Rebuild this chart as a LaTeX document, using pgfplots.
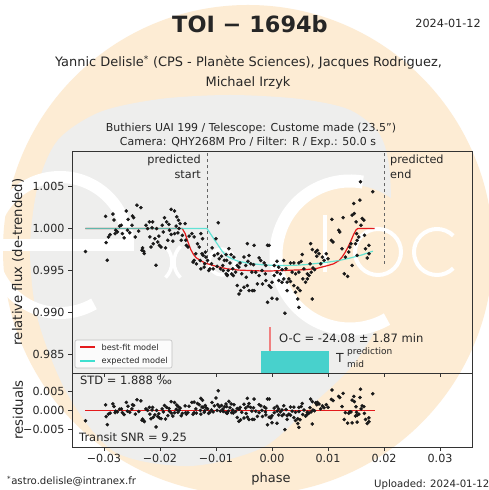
\documentclass[border=0pt]{standalone}
\usepackage{pgfplots}
\usepackage{pgfplotstable}
\pgfplotsset{compat=1.18}
\usepackage{fontspec}
\setmainfont{DejaVu Sans}
\definecolor{beige}{RGB}{253,236,212}
\definecolor{bggray}{RGB}{238,238,237}
\definecolor{fitred}{RGB}{228,26,28}
\definecolor{expcyan}{RGB}{64,224,208}
\definecolor{barcyan}{RGB}{72,209,204}
\definecolor{salmonc}{RGB}{240,128,128}
\definecolor{txt}{RGB}{38,38,38}

\pgfplotstableread{
x f r
-0.0333 0.99726 -0.00274
-0.0297 1.00147 0.00147
-0.0296 0.99833 -0.00167
-0.0294 0.99622 -0.00378
-0.0292 0.99900 -0.00100
-0.0289 0.99928 -0.00072
-0.0284 1.00174 0.00174
-0.0282 1.00103 0.00103
-0.0280 0.99940 -0.00060
-0.0279 0.99980 -0.00020
-0.0276 0.99960 -0.00040
-0.0272 1.00030 0.00030
-0.0269 1.00040 0.00040
-0.0267 0.99940 -0.00060
-0.0264 0.99890 -0.00110
-0.0260 1.00210 0.00210
-0.0258 0.99980 -0.00020
-0.0257 1.00110 0.00110
-0.0254 0.99950 -0.00050
-0.0250 1.00040 0.00040
-0.0249 1.00150 0.00150
-0.0247 1.00130 0.00130
-0.0244 0.99900 -0.00100
-0.0241 1.00280 0.00280
-0.0238 0.99970 -0.00030
-0.0234 1.00250 0.00250
-0.0232 0.99741 -0.00259
-0.0231 0.99769 -0.00231
-0.0229 0.99729 -0.00271
-0.0228 0.99702 -0.00298
-0.0225 1.00040 0.00040
-0.0222 1.00000 0.00000
-0.0219 1.00080 0.00080
-0.0218 0.99900 -0.00100
-0.0216 0.99780 -0.00220
-0.0214 1.00010 0.00010
-0.0213 1.00080 0.00080
-0.0212 0.99820 -0.00180
-0.0209 0.99880 -0.00120
-0.0207 0.99562 -0.00438
-0.0206 1.00000 0.00000
-0.0204 0.99840 -0.00160
-0.0202 0.99910 -0.00090
-0.0201 0.99800 -0.00200
-0.0198 0.99780 -0.00220
-0.0196 1.00040 0.00040
-0.0194 0.99960 -0.00040
-0.0192 1.00130 0.00130
-0.0190 0.99770 -0.00230
-0.0188 1.00080 0.00080
-0.0186 0.99860 -0.00140
-0.0184 1.00050 0.00050
-0.0183 0.99980 -0.00020
-0.0180 0.99930 -0.00070
-0.0180 1.00230 0.00230
-0.0177 0.99850 -0.00150
-0.0174 0.99940 -0.00060
-0.0174 1.00210 0.00210
-0.0171 1.00030 0.00030
-0.0170 1.00140 0.00140
-0.0168 0.99950 -0.00050
-0.0167 1.00100 0.00100
-0.0166 1.00000 0.00000
-0.0164 1.00060 0.00060
-0.0162 0.99860 -0.00140
-0.0160 0.99920 -0.00080
-0.0155 1.00060 0.00120
-0.0154 0.99860 -0.00060
-0.0153 0.99800 -0.00100
-0.0150 0.99780 -0.00060
-0.0148 0.99910 0.00110
-0.0143 0.99940 0.00210
-0.0141 0.99600 -0.00100
-0.0139 0.99900 0.00220
-0.0139 0.99620 -0.00060
-0.0136 0.99700 0.00040
-0.0135 0.99580 -0.00070
-0.0133 0.99820 0.00180
-0.0130 0.99780 0.00150
-0.0128 0.99620 0.00000
-0.0127 0.99940 0.00320
-0.0127 0.99520 -0.00100
-0.0125 0.99700 0.00090
-0.0124 0.99880 0.00270
-0.0123 0.99680 0.00080
-0.0121 0.99540 -0.00050
-0.0120 0.99580 -0.00010
-0.0119 0.99720 0.00130
-0.0118 0.99660 0.00070
-0.0115 0.99620 0.00040
-0.0113 0.99500 -0.00080
-0.0111 0.99520 -0.00050
-0.0108 0.99580 0.00010
-0.0107 0.99770 0.00210
-0.0105 0.99520 -0.00040
-0.0103 0.99680 0.00120
-0.0100 0.99880 0.00330
-0.0098 0.99550 0.00000
-0.0097 0.99700 0.00150
-0.0096 1.00070 0.00520
-0.0094 0.99640 0.00095
-0.0092 0.99520 -0.00020
-0.0090 0.99670 0.00130
-0.0088 0.99560 0.00030
-0.0087 0.99500 -0.00030
-0.0085 0.99620 0.00090
-0.0082 0.99690 0.00170
-0.0082 0.99460 -0.00060
-0.0081 0.99620 0.00100
-0.0080 0.99450 -0.00070
-0.0080 0.99440 -0.00080
-0.0078 0.99500 -0.00020
-0.0077 0.99760 0.00240
-0.0075 0.99590 0.00070
-0.0073 0.99690 0.00170
-0.0072 0.99460 -0.00060
-0.0070 0.99520 0.00010
-0.0069 0.99440 -0.00070
-0.0068 0.99660 0.00150
-0.0065 0.99480 -0.00030
-0.0062 0.99560 0.00050
-0.0062 0.99320 -0.00190
-0.0059 0.99540 0.00030
-0.0059 0.99220 -0.00290
-0.0057 0.99590 0.00080
-0.0056 0.99260 -0.00250
-0.0054 0.99460 -0.00050
-0.0050 0.99660 0.00160
-0.0050 0.99300 -0.00200
-0.0047 0.99560 0.00060
-0.0046 0.99420 -0.00080
-0.0044 0.99820 0.00320
-0.0044 0.99320 -0.00180
-0.0043 0.99610 0.00110
-0.0041 0.99680 0.00180
-0.0041 0.99260 -0.00240
-0.0038 0.99580 0.00080
-0.0036 0.99480 -0.00020
-0.0035 0.99260 -0.00240
-0.0033 0.99570 0.00070
-0.0032 0.99800 0.00300
-0.0032 0.99260 -0.00240
-0.0029 0.99480 -0.00020
-0.0026 0.99340 -0.00160
-0.0023 0.99650 0.00150
-0.0023 0.99440 -0.00060
-0.0020 0.99620 0.00120
-0.0018 0.99500 0.00000
-0.0017 0.99340 -0.00160
-0.0014 0.99590 0.00090
-0.0012 0.99460 -0.00040
-0.0011 0.99560 0.00060
-0.0011 0.99380 -0.00120
-0.0008 0.99800 0.00300
-0.0008 0.99120 -0.00380
-0.0005 0.99800 0.00300
-0.0005 0.99320 -0.00180
-0.0002 0.99300 -0.00200
0.0000 0.99360 -0.00140
0.0000 0.99170 -0.00330
0.0004 0.99560 0.00060
0.0004 0.99440 -0.00060
0.0009 0.99610 0.00110
0.0009 0.99480 -0.00020
0.0009 0.99160 -0.00340
0.0012 0.99540 0.00040
0.0012 0.99380 -0.00120
0.0015 0.99460 -0.00040
0.0018 0.99510 0.00010
0.0018 0.99360 -0.00140
0.0021 0.99620 0.00120
0.0021 0.99400 -0.00100
0.0023 0.98990 -0.00510
0.0025 0.99520 0.00020
0.0027 0.99360 -0.00140
0.0027 0.99260 -0.00240
0.0030 0.99400 -0.00100
0.0033 0.99590 0.00090
0.0033 0.99370 -0.00130
0.0036 0.99480 -0.00020
0.0039 0.99590 0.00085
0.0039 0.99320 -0.00190
0.0042 0.99460 -0.00050
0.0042 0.99240 -0.00270
0.0046 0.99290 -0.00220
0.0046 0.99160 -0.00350
0.0048 0.99590 0.00080
0.0048 0.99480 -0.00030
0.0048 0.99060 -0.00450
0.0050 0.99260 -0.00250
0.0052 0.99610 0.00100
0.0054 0.99690 0.00180
0.0055 0.99400 -0.00110
0.0057 0.99520 0.00010
0.0060 0.99360 -0.00150
0.0063 0.99400 -0.00110
0.0063 0.99460 -0.00050
0.0066 0.99440 -0.00070
0.0068 0.99580 0.00070
0.0069 0.99820 0.00300
0.0070 0.99480 -0.00040
0.0072 0.99750 0.00230
0.0072 0.99160 -0.00360
0.0073 0.99530 0.00010
0.0076 0.99510 -0.00010
0.0078 0.99720 0.00200
0.0080 0.99670 0.00150
0.0081 0.99740 0.00210
0.0084 0.99700 0.00170
0.0087 0.99580 0.00040
0.0090 0.99660 0.00120
0.0093 0.99620 0.00070
0.0097 0.99700 0.00150
0.0100 0.99640 0.00080
0.0106 0.99860 0.00290
0.0107 1.00110 0.00540
0.0109 0.99840 0.00260
0.0119 0.99980 0.00370
0.0121 0.99960 0.00340
0.0125 0.99760 0.00100
0.0127 1.00130 0.00450
0.0129 0.99460 -0.00240
0.0131 0.99660 -0.00060
0.0135 0.99430 -0.00340
0.0137 0.99720 -0.00075
0.0139 0.99780 -0.00040
0.0141 0.99820 -0.00040
0.0143 1.00160 0.00270
0.0143 0.99560 -0.00330
0.0146 1.00300 0.00370
0.0147 1.00180 0.00230
0.0149 0.99820 -0.00150
0.0150 1.00080 0.00095
0.0151 0.99940 -0.00050
0.0152 0.99860 -0.00130
0.0152 0.99680 -0.00310
0.0155 0.99900 -0.00100
0.0157 1.00340 0.00340
0.0158 1.00560 0.00560
0.0159 1.00040 0.00040
0.0161 1.00120 0.00120
0.0164 1.00100 0.00100
0.0165 0.99920 -0.00080
0.0167 0.99760 -0.00240
0.0170 0.99650 -0.00350
0.0173 0.99700 -0.00300
0.0173 0.99800 -0.00200
0.0180 1.00440 0.00440
}\obsdata

\pgfplotstableread{
x y
-0.0333 1.0000
-0.0160 1.0000
-0.0155 0.9994
-0.0150 0.9984
-0.0145 0.9975
-0.0140 0.9969
-0.0135 0.9965
-0.0130 0.9963
-0.0120 0.9959
-0.0110 0.9957
-0.0100 0.9955
-0.0080 0.9952
-0.0060 0.99505
-0.0040 0.9950
-0.0020 0.99495
0.0000 0.99495
0.0020 0.9950
0.0040 0.99505
0.0060 0.9951
0.0080 0.99525
0.0100 0.9956
0.0110 0.9958
0.0120 0.9962
0.0125 0.9966
0.0130 0.9971
0.0135 0.9977
0.0140 0.9984
0.0145 0.9992
0.0150 0.99985
0.0153 1.0000
0.0183 1.0000
}\fitmodel

\pgfplotstableread{
x y
-0.0333 1.0000
-0.0116 1.0000
-0.0110 0.9994
-0.0105 0.9989
-0.0100 0.9984
-0.0095 0.9979
-0.0090 0.9974
-0.0085 0.9970
-0.0080 0.9967
-0.0070 0.99635
-0.0060 0.9961
-0.0040 0.99585
-0.0020 0.9957
0.0000 0.99562
0.0020 0.9956
0.0040 0.99562
0.0060 0.9957
0.0080 0.99585
0.0100 0.9960
0.0120 0.9962
0.0140 0.9965
0.0160 0.99685
0.0180 0.9973
}\expmodel

\begin{document}
\begin{tikzpicture}
\useasboundingbox (0,0) rectangle (489bp,490bp);
\fill[white] (0,0) rectangle (489bp,490bp);
% background logo (pixel coordinates, y downwards)
\begin{scope}[x=1bp,y=-1bp,yshift=490bp]
  \fill[beige] (248,250) circle[radius=245bp];
  \fill[bggray] plot[smooth cycle] coordinates {(230,95) (300,99) (350,110) (380,135) (390,175) (390,250) (380,318) (352,366) (306,410) (262,448) (190,466) (115,452) (68,395) (38,320) (30,250) (38,185) (58,140) (100,112) (160,99)};
  \fill[beige] (350,255) circle[radius=70bp];
  \draw[white,line width=13bp] ([shift={(80:74bp)}]350,255) arc[start angle=80,end angle=300,radius=74bp];
  \draw[white,line width=12bp] ([shift={(0:68bp)}]60,245) arc[start angle=0,end angle=300,radius=68bp];
  \draw[white,line width=12bp] (-10,245) -- (134,245);
  \draw[white,line width=3.5bp] ([shift={(-45:22bp)}]150,262) arc[start angle=-45,end angle=45,radius=22bp];
  \draw[white,line width=3.5bp] ([shift={(135:22bp)}]196,262) arc[start angle=135,end angle=225,radius=22bp];
  \draw[white,line width=3.5bp] (222,262) circle[radius=13bp];
  \draw[white,line width=4bp] (325,215) -- (325,272);
  \draw[white,line width=4bp] (378,252) circle[radius=23bp];
  \draw[white,line width=4bp] ([shift={(45:23bp)}]437,252) arc[start angle=45,end angle=315,radius=23bp];
\end{scope}

\begin{axis}[
  at={(72bp,117bp)}, anchor=south west,
  width=400bp, height=222bp, scale only axis,
  xmin=-0.0357, xmax=0.0357, ymin=0.98277, ymax=1.00926,
  scaled ticks=false,
  axis line style={black!80, line width=0.9bp},
  xtick={-0.03,-0.02,-0.01,0,0.01,0.02,0.03}, xticklabels={},
  ytick={0.985,0.990,0.995,1.000,1.005},
  yticklabels={0.985,0.990,0.995,1.000,1.005},
  tick align=outside, xtick pos=bottom, ytick pos=left,
  major tick length=4bp, tick style={black!80, line width=0.8bp},
  ticklabel style={font=\fontsize{11.2}{13}\selectfont, text=txt},
  ylabel={relative flux (de-trended)},
  ylabel style={font=\fontsize{13.3}{16}\selectfont, text=txt, at={(axis description cs:-0.135,0.5)}, anchor=center},
]
\addplot[black!60, dashed, line width=0.8bp] coordinates {(-0.0116,0.9958) (-0.0116,1.00926)};
\addplot[black!60, dashed, line width=0.8bp] coordinates {(0.0200,0.9958) (0.0200,1.00926)};
\addplot[fill=barcyan, draw=none] coordinates {(-0.0020,0.98277) (-0.0020,0.98537) (0.0102,0.98537) (0.0102,0.98277)} -- cycle;
\addplot[salmonc, line width=2.5bp] coordinates {(-0.00036,0.98537) (-0.00036,0.98824)};
\addplot[only marks, mark=*, mark size=1.6bp, black!90] table[x=x,y=f] {\obsdata};
\addplot[fitred, line width=1.2bp] table[x=x,y=y] {\fitmodel};
\addplot[expcyan, line width=1.2bp, opacity=0.8] table[x=x,y=y] {\expmodel};
\end{axis}

\begin{axis}[
  at={(72bp,43bp)}, anchor=south west,
  width=400bp, height=74bp, scale only axis,
  xmin=-0.0357, xmax=0.0357, ymin=-0.0097, ymax=0.0099,
  scaled ticks=false,
  axis line style={black!80, line width=0.9bp},
  xtick={-0.03,-0.02,-0.01,0,0.01,0.02,0.03},
  xticklabels={−0.03,−0.02,−0.01,0.00,0.01,0.02,0.03},
  ytick={-0.005,0,0.005}, yticklabels={−0.005,0.000,0.005},
  tick align=outside, xtick pos=bottom, ytick pos=left,
  major tick length=4bp, tick style={black!80, line width=0.8bp},
  ticklabel style={font=\fontsize{11.2}{13}\selectfont, text=txt},
  ylabel={residuals},
  ylabel style={font=\fontsize{13.3}{16}\selectfont, text=txt, at={(axis description cs:-0.135,0.5)}, anchor=center},
]
\addplot[only marks, mark=*, mark size=1.6bp, black!90] table[x=x,y=r] {\obsdata};
\addplot[fitred, line width=1.1bp] coordinates {(-0.0333,0) (0.0183,0)};
\end{axis}

% texts and legend (pixel coordinates, y downwards)
\begin{scope}[x=1bp,y=-1bp,yshift=490bp, every node/.style={text=txt, inner sep=0pt}]
  \filldraw[fill=white, fill opacity=0.8, draw=black!25, rounded corners=2bp, line width=0.6bp] (75,340) rectangle (172,368);
  \draw[fitred, line width=1.2bp] (80,347) -- (95,347);
  \draw[expcyan, line width=1.2bp] (80,361) -- (95,361);
  \node[anchor=west, font=\fontsize{8.2}{9.5}\selectfont] at (101.5,347) {best-fit model};
  \node[anchor=west, font=\fontsize{8.2}{9.5}\selectfont] at (101.5,361) {expected model};
  \node[font=\fontsize{22.5}{27}\selectfont\bfseries] at (250,24) {TOI − 1694b};
  \node[anchor=east, font=\fontsize{11.3}{13}\selectfont] at (481,23) {2024-01-12};
  \node[anchor=base, font=\fontsize{13}{16}\selectfont] at (248.5,66.7) {Yannic Delisle\textsuperscript{*} (CPS - Planète Sciences), Jacques Rodriguez,};
  \node[anchor=base, font=\fontsize{13}{16}\selectfont] at (248,86.7) {Michael Irzyk};
  \node[anchor=base, font=\fontsize{11}{13}\selectfont] at (251,131.3) {Buthiers UAI 199 / Telescope: Custome made (23.5")};
  \node[anchor=base, font=\fontsize{11}{13}\selectfont] at (248,146) {Camera: QHY268M Pro / Filter: R / Exp.: 50.0 s};
  \node[anchor=north east, align=right, font=\fontsize{11.3}{15}\selectfont] at (201,154.5) {predicted\\start};
  \node[anchor=north west, align=left, font=\fontsize{11.3}{15}\selectfont] at (390,154.5) {predicted\\end};
  \node[anchor=west, font=\fontsize{11.6}{14}\selectfont] at (279,338.5) {O-C = -24.08 ± 1.87 min};
  \node[anchor=west, font=\fontsize{12.5}{14}\selectfont] at (336,358) {T};
  \node[anchor=west, font=\fontsize{9}{11}\selectfont] at (347,352.5) {prediction};
  \node[anchor=west, font=\fontsize{9}{11}\selectfont] at (347,364) {mid};
  \node[anchor=west, font=\fontsize{11.5}{14}\selectfont] at (80,380.5) {STD = 1.888 ‰};
  \node[anchor=west, font=\fontsize{11.5}{14}\selectfont] at (79,437) {Transit SNR = 9.25};
  \node[anchor=base west, font=\fontsize{10.2}{12}\selectfont] at (7,485) {\textsuperscript{*}astro.delisle@intranex.fr};
  \node[anchor=base, font=\fontsize{13}{16}\selectfont] at (271,483) {phase};
  \node[anchor=base west, font=\fontsize{10.2}{12}\selectfont] at (374,488) {Uploaded: 2024-01-12};
\end{scope}
\end{tikzpicture}
\end{document}
